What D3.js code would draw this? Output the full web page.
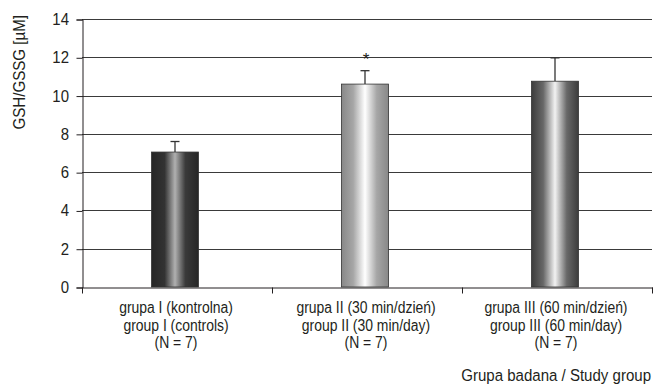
<!DOCTYPE html>
<html><head><meta charset="utf-8">
<script src="https://cdn.jsdelivr.net/npm/d3@7"></script>
<style>
html,body{margin:0;padding:0;background:#fff;}
svg{display:block;}
text{font-family:"Liberation Sans",Arial,sans-serif;fill:#231f20;}
</style></head><body>
<svg id="chart" width="654" height="385"></svg>
<script>
const categories = ["grupa I (kontrolna)|group I (controls)|(N = 7)",
                    "grupa II (30 min/dzień)|group II (30 min/day)|(N = 7)",
                    "grupa III (60 min/dzień)|group III (60 min/day)|(N = 7)"];
const values = [7.05, 10.6, 10.75];
const errors = [0.55, 0.7, 1.22];
const significance = ["", "*", ""];
const yTicks = [0, 2, 4, 6, 8, 10, 12, 14];
const yTitle = "GSH/GSSG [µM]";
const xTitle = "Grupa badana / Study group";

const svg = d3.select("#chart");
const m = {left: 82, right: 2, top: 19, bottom: 98};
const W = 654, H = 385;
const x = d3.scaleBand().domain(categories).range([m.left, W - m.right]).paddingInner(0).paddingOuter(0);
const y = d3.scaleLinear().domain([0, 14]).range([H - m.bottom, m.top]);

// condensed text helper (horizontal squeeze, like a condensed face)
function ctext(parent, tx, ty, str, size, anchor, sx, rot) {
  return parent.append("text")
    .attr("transform", `translate(${tx},${ty})` + (rot ? ` rotate(${rot})` : "") + ` scale(${sx},1)`)
    .attr("text-anchor", anchor).style("font-size", size + "px").text(str);
}

const defs = svg.append("defs");
const grads = [
  [["0%","#262626"],["28%","#333"],["50%","#b0b0b0"],["72%","#3a3a3a"],["100%","#262626"]],
  [["0%","#888"],["25%","#a6a6a6"],["50%","#ffffff"],["75%","#a6a6a6"],["100%","#888"]],
  [["0%","#3c3c3c"],["25%","#686868"],["50%","#f2f2f2"],["75%","#686868"],["100%","#3c3c3c"]]
];
grads.forEach((g, i) => {
  const lg = defs.append("linearGradient").attr("id", "g" + i).attr("x1", "0%").attr("x2", "100%").attr("y1", "0%").attr("y2", "0%");
  g.forEach(s => lg.append("stop").attr("offset", s[0]).attr("stop-color", s[1]));
});

// gridlines
svg.append("g").selectAll("line").data(yTicks.filter(d => d > 0)).join("line")
  .attr("x1", m.left).attr("x2", W - m.right)
  .attr("y1", d => Math.round(y(d)) + 0.5).attr("y2", d => Math.round(y(d)) + 0.5)
  .attr("stroke", "#3a3a3a").attr("stroke-width", 1);

// y axis
const yAxis = svg.append("g").attr("transform", `translate(${m.left + 0.5},0.5)`)
  .call(d3.axisLeft(y).tickValues(yTicks).tickSize(6).tickFormat(""));
yAxis.select(".domain").attr("stroke", "#231f20");
yAxis.selectAll(".tick line").attr("stroke", "#231f20");
const yl = svg.append("g");
yTicks.forEach(t => ctext(yl, 69, y(t) + 6, d3.format("d")(t), 17, "end", 0.88));

// x axis
const xAxis = svg.append("g").attr("transform", `translate(0.5,${Math.round(y(0)) + 0.5})`)
  .call(d3.axisBottom(x).tickSize(0).tickFormat(""));
xAxis.select(".domain").attr("stroke", "#231f20");
const bounds = x.domain().map(d => x(d)).concat([x.range()[1]]);
xAxis.selectAll(".bt").data(bounds).join("line").attr("class", "bt")
  .attr("x1", d => Math.round(d)).attr("x2", d => Math.round(d)).attr("y1", 0).attr("y2", 6)
  .attr("stroke", "#231f20");

// bars
const bw = 47;
const bars = svg.append("g");
categories.forEach((c, i) => {
  const cx = x(c) + x.bandwidth() / 2 - 2;
  bars.append("line").attr("x1", cx).attr("x2", cx)
    .attr("y1", y(values[i])).attr("y2", y(values[i] + errors[i])).attr("stroke", "#333").attr("stroke-width", 1.3);
  bars.append("line").attr("x1", cx - 4.5).attr("x2", cx + 4.5)
    .attr("y1", y(values[i] + errors[i])).attr("y2", y(values[i] + errors[i])).attr("stroke", "#333").attr("stroke-width", 1.3);
  bars.append("rect").attr("x", cx - bw / 2).attr("width", bw)
    .attr("y", y(values[i])).attr("height", y(0) - y(values[i]))
    .attr("fill", `url(#g${i})`).attr("stroke", "#333").attr("stroke-width", 0.8);
  if (significance[i]) {
    ctext(svg, cx + 1, y(values[i] + errors[i]) - 6, significance[i], 17, "middle", 1).attr("fill", "#444");
  }
  const lines = c.split("|");
  lines.forEach((l, j) => ctext(svg, cx + 1, y(0) + 26 + j * 17.5, l, 16, "middle", 0.87));
});

// titles
ctext(svg, 25, 15, yTitle, 17, "end", 0.89, -90);
ctext(svg, 651, 381, xTitle, 17, "end", 0.885);
</script>
</body></html>
